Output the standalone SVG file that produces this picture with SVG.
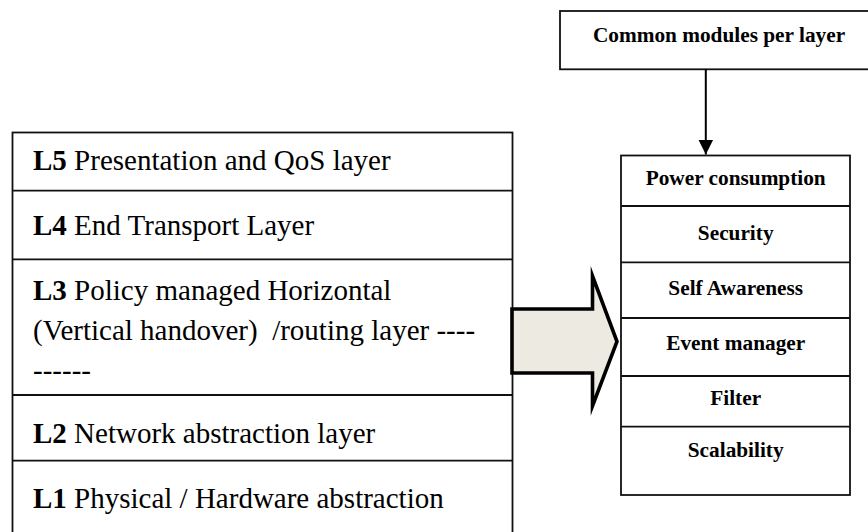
<svg xmlns="http://www.w3.org/2000/svg" width="868" height="532" viewBox="0 0 868 532">
  <style>
    .box { fill: #ffffff; stroke: #111111; stroke-width: 1.8; }
    .rule { stroke: #111111; stroke-width: 1.8; fill: none; }
    .layer { font-family: "Liberation Serif", "Times New Roman", serif; font-size: 29px; fill: #000000; }
    .layer .tag { font-weight: bold; }
    .mod { font-family: "Liberation Serif", "Times New Roman", serif; font-size: 21.3px; font-weight: bold; fill: #000000; text-anchor: middle; }
    .link { stroke: #000000; stroke-width: 2; fill: none; }
    .block { fill: #edebe1; stroke: #000000; stroke-width: 3.6; stroke-linejoin: miter; stroke-miterlimit: 10; }
  </style>
  <defs>
    <marker id="head" markerUnits="userSpaceOnUse" markerWidth="16" markerHeight="16" refX="15" refY="8" orient="auto">
      <path d="M0,0.5 L15,8 L0,15.5 Z" fill="#000000"/>
    </marker>
  </defs>

  <rect width="868" height="532" fill="#ffffff"/>

  <!-- layer stack -->
  <g id="layer-stack">
    <rect class="box" x="12.5" y="132.5" width="500" height="402"/>
    <line class="rule" x1="12.5" y1="190.7" x2="512.5" y2="190.7"/>
    <line class="rule" x1="12.5" y1="259.3" x2="512.5" y2="259.3"/>
    <line class="rule" x1="12.5" y1="395" x2="512.5" y2="395"/>
    <line class="rule" x1="12.5" y1="460.7" x2="512.5" y2="460.7"/>
  </g>
  <g id="L5">
    <text class="layer" x="33" y="170"><tspan class="tag">L5</tspan> Presentation and QoS layer</text>
  </g>
  <g id="L4">
    <text class="layer" x="33" y="235"><tspan class="tag">L4</tspan> End Transport Layer</text>
  </g>
  <g id="L3">
    <text class="layer" x="33" y="300"><tspan class="tag">L3</tspan> Policy managed Horizontal</text>
    <text class="layer" x="33" y="340" xml:space="preserve">(Vertical handover)  /routing layer ----</text>
    <text class="layer" x="33" y="380">------</text>
  </g>
  <g id="L2">
    <text class="layer" x="33" y="443"><tspan class="tag">L2</tspan> Network abstraction layer</text>
  </g>
  <g id="L1">
    <text class="layer" x="33" y="508"><tspan class="tag">L1</tspan> Physical / Hardware abstraction</text>
  </g>

  <!-- header box -->
  <g id="common-modules">
    <rect class="box" x="560" y="11" width="312" height="58.3"/>
    <text class="mod" x="719" y="41.7">Common modules per layer</text>
  </g>

  <!-- module stack -->
  <g id="module-stack">
    <rect class="box" x="621" y="155.5" width="229" height="339.5"/>
    <line class="rule" x1="621" y1="206" x2="850" y2="206"/>
    <line class="rule" x1="621" y1="262.3" x2="850" y2="262.3"/>
    <line class="rule" x1="621" y1="318" x2="850" y2="318"/>
    <line class="rule" x1="621" y1="376" x2="850" y2="376"/>
    <line class="rule" x1="621" y1="426.7" x2="850" y2="426.7"/>
  </g>
  <g id="power-consumption"><text class="mod" x="735.7" y="185">Power consumption</text></g>
  <g id="security"><text class="mod" x="735.7" y="240">Security</text></g>
  <g id="self-awareness"><text class="mod" x="735.7" y="295">Self Awareness</text></g>
  <g id="event-manager"><text class="mod" x="735.7" y="350">Event manager</text></g>
  <g id="filter"><text class="mod" x="735.7" y="405">Filter</text></g>
  <g id="scalability"><text class="mod" x="735.7" y="456.7">Scalability</text></g>

  <!-- connectors -->
  <g id="connectors">
    <line class="link" x1="705.8" y1="69.3" x2="705.8" y2="154.5" marker-end="url(#head)"/>
    <polygon class="block" points="512,309 592.5,309 592.5,276 617,341.5 592.5,406 592.5,373 512,373"/>
  </g>
</svg>
